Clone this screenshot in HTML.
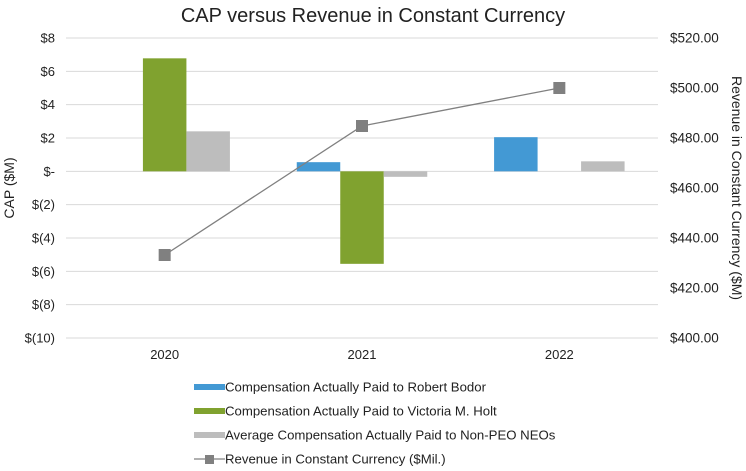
<!DOCTYPE html>
<html><head><meta charset="utf-8"><style>
body{margin:0;background:#fff;font-family:"Liberation Sans",Arial,sans-serif;}
svg text{font-family:"Liberation Sans",Arial,sans-serif;fill:#222;}
</style></head><body>
<svg id="c" width="746" height="466" xmlns="http://www.w3.org/2000/svg">
<text x="373" y="22" font-size="20" text-anchor="middle">CAP versus Revenue in Constant Currency</text>
<g id="grid"></g><g id="bars"></g><g id="line"></g><g id="axes"></g><g id="legend"></g>
</svg>
<script>
const categories=["2020","2021","2022"];
const bodor=[null,0.55,2.05];
const holt=[6.78,-5.55,null];
const neos=[2.4,-0.33,0.6];
const revenue=[433.2,484.8,500];
const leftTicks=[8,6,4,2,0,-2,-4,-6,-8,-10];
const leftLabels=["$8","$6","$4","$2","$-","$(2)","$(4)","$(6)","$(8)","$(10)"];
const rightTicks=[520,500,480,460,440,420,400];

const NS="http://www.w3.org/2000/svg";
const X0=66,X1=658,TOP=38,BOT=338;
const yL=v=>TOP+(8-v)*(BOT-TOP)/18;
const yR=v=>TOP+(520-v)*(BOT-TOP)/120;
const cw=(X1-X0)/categories.length;
const xC=i=>X0+cw*(i+0.5);
function mk(tag,attrs,parent,txt){const e=document.createElementNS(NS,tag);for(const k in attrs)e.setAttribute(k,attrs[k]);if(txt!=null)e.textContent=txt;document.getElementById(parent).appendChild(e);return e;}
leftTicks.forEach((t,i)=>{
 const g=mk('line',{x1:X0,x2:X1,y1:yL(t),y2:yL(t),stroke:'#d9d9d9','stroke-width':1},'grid');
 
 
 const l=mk('text',{x:55,y:yL(t)+4.5,'font-size':13,'text-anchor':'end'},'axes',leftLabels[i]);
 
 
});
rightTicks.forEach(t=>{
 const l=mk('text',{x:670,y:yR(t)+4.5,'font-size':13.5},'axes','$'+t.toFixed(2));
 
 
});
categories.forEach((c,i)=>{
 const l=mk('text',{x:xC(i),y:359,'font-size':13,'text-anchor':'middle'},'axes',c);
 
 
});
const yt=mk('text',{x:0,y:0,'font-size':14,'text-anchor':'middle',transform:'translate(14,188) rotate(-90)'},'axes','CAP ($M)');


const yt2=mk('text',{x:0,y:0,'font-size':14,'text-anchor':'middle',transform:'translate(732,188) rotate(90)'},'axes','Revenue in Constant Currency ($M)');


const series=[[bodor,'#4399d4','bar-bodor'],[holt,'#80a22f','bar-holt'],[neos,'#bdbdbd','bar-neos']];
const bw=43.5;
series.forEach((s,si)=>{
 s[0].forEach((v,i)=>{
  if(v==null)return;
  const x=xC(i)+(si-1.5)*bw;
  const y0=yL(0),y1=yL(v);
  const r=mk('rect',{x:x,y:Math.min(y0,y1),width:bw,height:Math.abs(y1-y0),fill:s[1]},'bars');
  
  
 });
});
const pts=revenue.map((v,i)=>xC(i)+','+yR(v)).join(' ');
const pl=mk('polyline',{points:pts,fill:'none',stroke:'#808080','stroke-width':1.3},'line');


revenue.forEach((v,i)=>{
 const m=mk('rect',{x:xC(i)-6,y:yR(v)-6,width:12,height:12,fill:'#808080'},'line');
 
 
});
const leg=[['#4399d4','Compensation Actually Paid to Robert Bodor','bar'],['#80a22f','Compensation Actually Paid to Victoria M. Holt','bar'],['#bdbdbd','Average Compensation Actually Paid to Non-PEO NEOs','bar'],['#808080','Revenue in Constant Currency ($Mil.)','line']];
leg.forEach((e,i)=>{
 const y=387+i*24;
 if(e[2]==='bar'){
  const s=mk('rect',{x:194,y:y-3,width:31,height:6,fill:e[0]},'legend');
  
  
 }else{
  const s=mk('line',{x1:194,x2:225,y1:y,y2:y,stroke:e[0],'stroke-width':1.3},'legend');
  
  
  const m=mk('rect',{x:205,y:y-4,width:9,height:9,fill:e[0]},'legend');
  
  
 }
 const t=mk('text',{x:225,y:y+4.5,'font-size':13.2},'legend',e[1]);
 
 
});
</script>
</body></html>
